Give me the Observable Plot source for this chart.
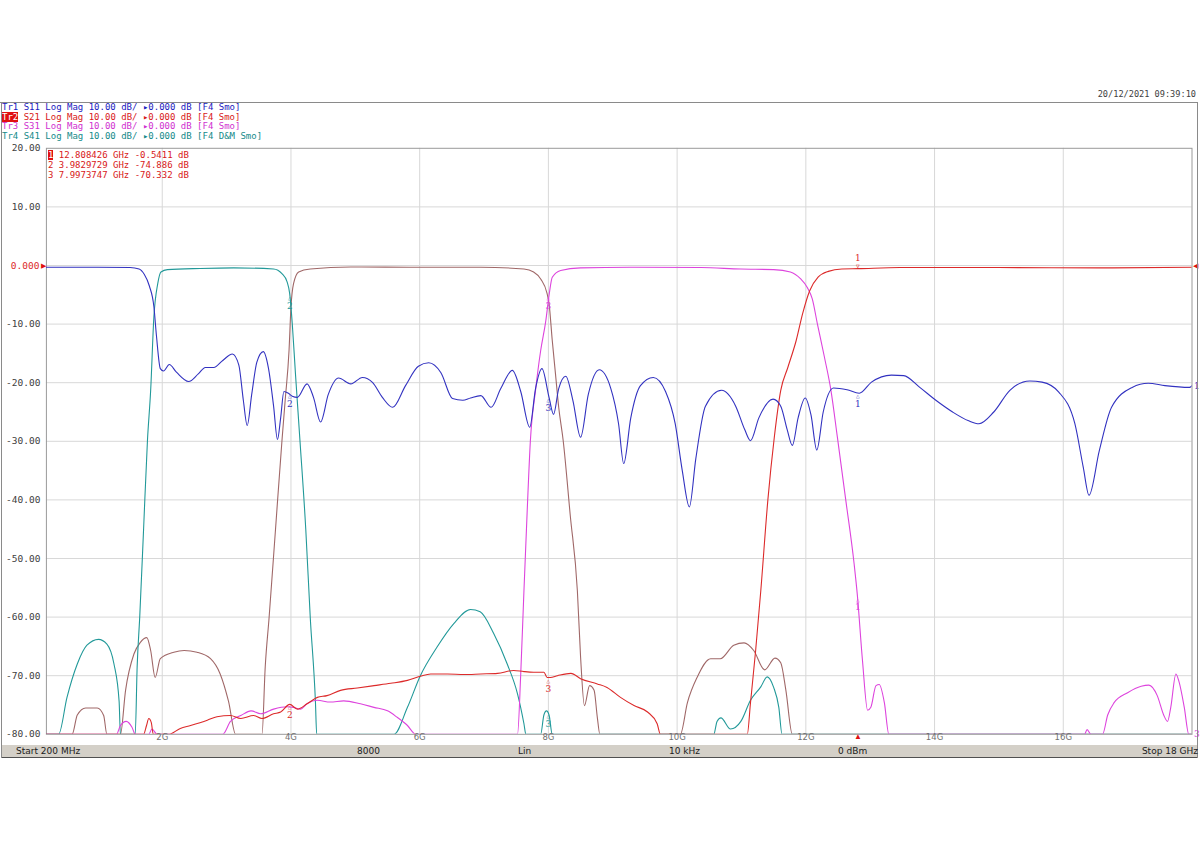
<!DOCTYPE html>
<html><head><meta charset="utf-8">
<script src="https://cdn.jsdelivr.net/npm/d3@7"></script>
<script src="https://cdn.jsdelivr.net/npm/@observablehq/plot@0.6"></script>
<style>
body{margin:0;background:#fff;}
#wrap{position:relative;width:1200px;height:849px;overflow:hidden;background:#fff;}
#chart{position:absolute;left:0;top:0;}
.abs{position:absolute;white-space:pre;}
.mono{font-family:"DejaVu Sans Mono",monospace;font-size:9px;line-height:9.6px;}
.inv{color:#fff;background:#e01010;}
.bar{font-family:"DejaVu Sans",sans-serif;font-size:9px;line-height:12px;color:#202020;}
</style></head>
<body><div id="wrap"><div id="chart"></div></div>
<script>
// ---- data -------------------------------------------------------------
const xTicks = [2, 4, 6, 8, 10, 12, 14, 16];
const xTickLabels = ["2G", "4G", "6G", "8G", "10G", "12G", "14G", "16G"];
const yTicks = [20, 10, 0, -10, -20, -30, -40, -50, -60, -70, -80];
const yTickLabels = ["20.00", "10.00", "0.000", "-10.00", "-20.00", "-30.00", "-40.00", "-50.00", "-60.00", "-70.00", "-80.00"];

// Tr1 S11 (GHz, dB)
const s11 = [[0.2,-0.3],[1.0,-0.3],[1.5,-0.35],[1.64,-0.6],[1.72,-1.5],[1.8,-3.5],[1.87,-7],[1.91,-12],[1.97,-17.6],[2.02,-18],[2.11,-16.9],[2.22,-18.2],[2.41,-19.8],[2.56,-18.5],[2.67,-17.4],[2.80,-17.4],[2.94,-16.2],[3.09,-15.1],[3.19,-17],[3.26,-23],[3.32,-27.3],[3.39,-22],[3.47,-16.5],[3.57,-14.7],[3.65,-17.5],[3.73,-24],[3.79,-29.7],[3.84,-26],[3.89,-21.5],[3.96,-21.8],[4.02,-22.3],[4.10,-22.5],[4.25,-20.2],[4.35,-22.5],[4.46,-26.7],[4.58,-22],[4.74,-19.2],[4.93,-20.2],[5.11,-19.1],[5.27,-20],[5.42,-22.5],[5.58,-24.2],[5.78,-20.5],[5.98,-17.2],[6.14,-16.6],[6.33,-18.3],[6.51,-22.7],[6.67,-23],[6.79,-22.6],[6.95,-22.2],[7.11,-24.2],[7.26,-21],[7.44,-17.9],[7.57,-21.5],[7.71,-27.6],[7.80,-21],[7.90,-17.6],[8.01,-22.5],[8.08,-25.4],[8.16,-21],[8.27,-18.9],[8.38,-23],[8.50,-29.3],[8.62,-22],[8.79,-17.8],[8.97,-21],[9.09,-27],[9.17,-33.8],[9.28,-26],[9.43,-20.5],[9.63,-19.1],[9.82,-21.5],[9.97,-27],[10.08,-35],[10.19,-41.2],[10.29,-33],[10.44,-24],[10.69,-21.3],[10.91,-24],[11.05,-28],[11.14,-29.9],[11.27,-26],[11.49,-22.8],[11.61,-24],[11.71,-28],[11.79,-30.7],[11.88,-26],[11.99,-22.6],[12.08,-25.5],[12.17,-31.5],[12.27,-25],[12.43,-20.9],[12.64,-21.2],[12.83,-21.8],[13.02,-19.9],[13.33,-18.7],[13.52,-18.8],[13.77,-20.8],[14.02,-23],[14.28,-25],[14.53,-26.5],[14.69,-27],[14.92,-25],[15.17,-21.3],[15.48,-19.7],[15.67,-19.9],[15.93,-21.6],[16.18,-27],[16.31,-34.4],[16.40,-39.2],[16.56,-31.6],[16.75,-24.2],[17.07,-20.8],[17.32,-20.1],[17.58,-20.5],[17.96,-20.8],[18.0,-20.5]];

// Tr2 S21
const s21 = [[0.2,-80],[1.71,-80],[1.756,-78.5],[1.79,-77.3],[1.83,-78],[1.86,-80],[2.10,-80],[2.28,-79],[2.44,-78.5],[2.70,-77.6],[2.85,-77],[3.06,-76.8],[3.22,-77.3],[3.42,-76.8],[3.55,-77.3],[3.73,-76.5],[3.84,-76.2],[3.98,-74.9],[4.10,-75.7],[4.25,-74.8],[4.41,-73.7],[4.56,-73.4],[4.77,-72.5],[5.03,-72.1],[5.29,-71.7],[5.55,-71.3],[5.81,-70.8],[6.01,-70.1],[6.17,-69.7],[6.43,-69.7],[6.69,-69.8],[6.95,-69.7],[7.21,-69.6],[7.46,-69.1],[7.62,-69.3],[7.77,-69.4],[7.93,-69.4],[7.98,-70.3],[8.03,-70.3],[8.14,-70],[8.35,-69.6],[8.50,-70.5],[8.76,-71.4],[8.91,-72],[9.12,-73.7],[9.33,-75.1],[9.54,-76.2],[9.69,-78.2],[9.74,-80],[11.09,-80],[11.14,-74.6],[11.22,-65.7],[11.30,-55.5],[11.41,-40],[11.51,-29.3],[11.61,-21.3],[11.72,-17.4],[11.85,-12.8],[11.95,-8.2],[12.06,-4.3],[12.19,-2],[12.35,-1],[12.56,-0.6],[12.81,-0.54],[13.46,-0.35],[15.0,-0.35],[16.56,-0.4],[18.0,-0.3]];

// Tr3 S31
const s31 = [[0.2,-80],[1.29,-80],[1.35,-78.5],[1.44,-77.8],[1.53,-78.8],[1.58,-80],[1.79,-80],[1.84,-79.1],[1.92,-80],[2.94,-80],[3.06,-77.8],[3.22,-76.8],[3.38,-76],[3.53,-76.5],[3.73,-75.7],[3.94,-75.3],[4.04,-75.4],[4.15,-75.7],[4.25,-74.8],[4.41,-74.2],[4.61,-74.5],[4.82,-74.3],[5.08,-74.8],[5.29,-75.4],[5.50,-76],[5.65,-77.1],[5.81,-78.5],[5.94,-80],[7.52,-80],[7.57,-69.7],[7.62,-55.5],[7.67,-42],[7.72,-29.9],[7.80,-21.3],[7.88,-14.5],[7.96,-9.4],[8.01,-5.1],[8.06,-2],[8.19,-0.85],[8.50,-0.4],[9.28,-0.3],[10.37,-0.35],[10.99,-0.6],[11.50,-0.7],[11.76,-1.1],[11.92,-2.3],[12.02,-3.7],[12.10,-5.7],[12.18,-10],[12.29,-15.7],[12.39,-21.3],[12.49,-29.3],[12.62,-40],[12.75,-50.9],[12.80,-56.2],[12.88,-67.4],[12.96,-75.9],[13.01,-75.4],[13.09,-71.7],[13.14,-71.5],[13.22,-74.6],[13.29,-80],[16.33,-80],[16.37,-79.2],[16.43,-80],[16.61,-80],[16.69,-76.7],[16.79,-74.6],[17.00,-72.9],[17.21,-71.8],[17.33,-71.6],[17.46,-73.4],[17.56,-76.7],[17.62,-77.8],[17.67,-75.4],[17.75,-69.7],[17.80,-71.1],[17.88,-75.4],[17.95,-80],[18.0,-80]];

// Tr4 S41
const s41 = [[0.2,-80],[0.39,-80],[0.52,-73.7],[0.68,-68],[0.83,-64.8],[1.01,-63.8],[1.14,-64.6],[1.25,-68],[1.33,-74.4],[1.35,-80],[1.58,-80],[1.61,-68.5],[1.65,-60],[1.71,-45],[1.77,-29.9],[1.82,-21.3],[1.87,-8.8],[1.93,-3.1],[1.98,-1.1],[2.08,-0.7],[2.59,-0.5],[3.11,-0.4],[3.73,-0.6],[3.86,-1.4],[3.94,-2.8],[3.98,-4.8],[4.02,-9.9],[4.07,-18.5],[4.14,-29.9],[4.23,-45],[4.30,-60.1],[4.38,-74.4],[4.40,-80],[5.60,-80],[5.81,-75.4],[6.01,-70],[6.27,-65.1],[6.53,-61.1],[6.79,-58.7],[6.94,-59.1],[7.15,-62.8],[7.36,-68],[7.52,-73.1],[7.62,-78.2],[7.65,-80],[7.88,-80],[7.93,-76.7],[7.97,-76],[8.01,-76.7],[8.06,-80],[10.57,-80],[10.62,-77.8],[10.68,-77.2],[10.83,-79.1],[10.99,-77.8],[11.14,-74.2],[11.30,-71.9],[11.40,-70.2],[11.50,-72],[11.58,-75.4],[11.63,-80],[18.0,-80]];

// brown channel trace (4-8 GHz band)
const chB = [[0.2,-80],[0.60,-80],[0.68,-76.7],[0.81,-75.5],[0.99,-75.5],[1.09,-76.8],[1.14,-80],[1.35,-80],[1.43,-72.5],[1.56,-66.3],[1.66,-64.3],[1.76,-63.5],[1.82,-65.7],[1.89,-70.3],[1.97,-67.1],[2.18,-66],[2.34,-65.7],[2.54,-66],[2.75,-67.1],[2.90,-69.7],[3.03,-74.4],[3.14,-80],[3.55,-80],[3.60,-68.5],[3.66,-60.1],[3.76,-45],[3.86,-29.9],[3.91,-23],[3.97,-14.5],[4.00,-7.1],[4.04,-3.1],[4.12,-1.1],[4.30,-0.6],[4.93,-0.25],[6.0,-0.3],[6.95,-0.3],[7.62,-0.6],[7.77,-1.1],[7.88,-2.3],[7.98,-4.8],[8.01,-6.5],[8.06,-12.8],[8.11,-18.5],[8.16,-24.2],[8.23,-29.9],[8.34,-42.7],[8.45,-55.5],[8.50,-66.8],[8.56,-75.1],[8.64,-71.7],[8.71,-72.5],[8.76,-77.1],[8.80,-80],[10.05,-80],[10.16,-74.6],[10.31,-70.3],[10.52,-67.1],[10.67,-67.1],[10.88,-64.8],[11.04,-64.4],[11.19,-65.7],[11.36,-69],[11.52,-67],[11.61,-67.8],[11.69,-72.5],[11.79,-80],[18.0,-80]];

// markers (GHz) and marker readings
const markerNames = ["1", "2", "3"];
const markerFreqs = [12.808426, 3.9829729, 7.9973747];
const s21MarkerMag = [-0.5411, -74.886, -70.332];
const s11MarkerMag = [-21.8, -21.8, -22.5];
const s31MarkerMag = [-56.5, -75.4, -5.0];
const s41MarkerMag = [-80, -5.0, -76.3];

// ---- colours ---------------------------------------------------------
const cS11 = "#3232c0", cS21 = "#dc2a2a", cS31 = "#dd44dd", cS41 = "#229999", cB = "#a06868";
const mono = "DejaVu Sans Mono";

const toRows = arr => arr.map(([f, db]) => ({f, db}));
const mk = (mags, skip = []) => markerFreqs.map((f, i) => ({f, db: mags[i], name: markerNames[i]})).filter((d, i) => !skip.includes(i));
const yLab = v => yTickLabels[yTicks.indexOf(v)];
const xLab = v => xTickLabels[xTicks.indexOf(v)];

const line = (arr, color) => Plot.line(toRows(arr), {x: "f", y: "db", stroke: color, strokeWidth: 1.1, curve: "monotone-x", clip: true});
const mText = (rows, color, dy, txt, size = 9, font = "DejaVu Serif") =>
  Plot.text(rows, {x: "f", y: "db", text: txt, fill: color, dy, fontSize: size, fontFamily: font});

const chart = Plot.plot({
  width: 1200, height: 849,
  marginTop: 147.8, marginBottom: 115.2, marginLeft: 45.9, marginRight: 8.5,
  x: {domain: [0.2, 18], axis: null},
  y: {domain: [-80, 20], axis: null},
  style: {background: "transparent", overflow: "visible"},
  marks: [
    Plot.gridX(xTicks, {stroke: "#d8d8d8", strokeOpacity: 1}),
    Plot.gridY(yTicks.filter(v => v > -80 && v < 20), {stroke: "#d8d8d8", strokeOpacity: 1}),
    Plot.frame({stroke: "#9a9a9a"}),
    line(chB, cB),
    line(s41, cS41),
    line(s31, cS31),
    line(s21, cS21),
    line(s11, cS11),
    // y tick labels
    Plot.text(yTicks.filter(v => v !== 0), {y: d => d, frameAnchor: "left", dx: -6, textAnchor: "end", text: d => yLab(d), fill: "#404040", fontSize: 9.5, fontFamily: mono}),
    Plot.text([0], {y: d => d, frameAnchor: "left", dx: -7, textAnchor: "end", text: d => yLab(d), fill: cS21, fontSize: 9.5, fontFamily: mono}),
    Plot.text([0], {y: d => d, frameAnchor: "left", dx: 0, textAnchor: "end", text: ["▶"], fill: "#e01010", fontSize: 7}),
    Plot.text([0], {y: d => d, frameAnchor: "right", dx: 1, textAnchor: "start", text: ["◀"], fill: "#e01010", fontSize: 7}),
    // x tick labels
    Plot.text(xTicks, {x: d => d, frameAnchor: "bottom", dy: 6, text: d => xLab(d), fill: "#707070", fontSize: 8.5, fontFamily: "DejaVu Sans"}),
    Plot.text([markerFreqs[0]], {x: d => d, frameAnchor: "bottom", dy: 5, text: () => "▲", fill: "#e01010", fontSize: 8}),
    // right-edge trace indicators
    Plot.text([-20.5], {y: d => d, frameAnchor: "right", dx: 2, textAnchor: "start", text: () => "1", fill: cS11, fontSize: 9, fontFamily: "DejaVu Serif"}),
    Plot.text([-80], {y: d => d, frameAnchor: "right", dx: 2, textAnchor: "start", text: () => "3", fill: cS31, fontSize: 9, fontFamily: "DejaVu Serif"}),
    // marker symbols on traces
    mText(mk(s21MarkerMag, [1, 2]), cS21, -3, () => "▽", 6, mono),
    mText(mk(s21MarkerMag, [1, 2]), cS21, -11, "name"),
    mText(mk(s21MarkerMag, [0]), cS21, 3, () => "△", 6, mono),
    mText(mk(s21MarkerMag, [0]), cS21, 11, "name"),
    mText(mk(s11MarkerMag), cS11, 3, () => "△", 6, mono),
    mText(mk(s11MarkerMag), cS11, 11, "name"),
    mText(mk(s31MarkerMag, [1]), cS31, 3, () => "△", 6, mono),
    mText(mk(s31MarkerMag, [1]), cS31, 11, "name"),
    mText(mk(s41MarkerMag, [0]), cS41, 3, () => "△", 6, mono),
    mText(mk(s41MarkerMag, [0]), cS41, 11, "name")
  ]
});
document.getElementById("chart").appendChild(chart);

// ---- HTML overlays (header, marker table, status bar) ----------------
const wrap = document.getElementById("wrap");
function addDiv(html, style, cls) {
  const d = document.createElement("div");
  d.className = "abs " + (cls || "");
  d.innerHTML = html;
  Object.assign(d.style, style);
  wrap.appendChild(d);
  return d;
}
// frame lines
addDiv("", {left: "0px", top: "101.5px", width: "1198px", height: "1px", background: "#8a8a8a"});
addDiv("", {left: "1px", top: "101.5px", width: "1px", height: "656px", background: "#8a8a8a"});
addDiv("", {left: "1196.5px", top: "101.5px", width: "1px", height: "656px", background: "#8a8a8a"});
// date
addDiv("20/12/2021 09:39:10", {right: "4px", top: "90px", color: "#404040", fontSize: "8.6px"}, "mono");
// trace header lines
const hdr = [
  ["Tr1", " S11 Log Mag 10.00 dB/ ▸0.000 dB [F4 Smo]", "#2020c0", false],
  ["Tr2", " S21 Log Mag 10.00 dB/ ▸0.000 dB [F4 Smo]", "#d81818", true],
  ["Tr3", " S31 Log Mag 10.00 dB/ ▸0.000 dB [F4 Smo]", "#d030d0", false],
  ["Tr4", " S41 Log Mag 10.00 dB/ ▸0.000 dB [F4 D&amp;M Smo]", "#148a8a", false]
];
hdr.forEach(([t, rest, col, inv], i) => {
  addDiv((inv ? `<span class="inv">${t}</span>` : t) + rest, {left: "2px", top: (103 + i * 9.6) + "px", color: col}, "mono");
});
// marker table
const mtab = [
  `<span class="inv">1</span> 12.808426 GHz -0.5411 dB`,
  `2 3.9829729 GHz -74.886 dB`,
  `3 7.9973747 GHz -70.332 dB`
];
mtab.forEach((t, i) => addDiv(t, {left: "48px", top: (150 + i * 10) + "px", color: "#d81818", lineHeight: "10px"}, "mono"));
// status bar
addDiv("", {left: "2px", top: "745px", width: "1194.5px", height: "12px", background: "#d4d0c8", borderBottom: "1px solid #505050"});
const bar = [["Start 200 MHz", 16], ["8000", 357], ["Lin", 518], ["10 kHz", 669], ["0 dBm", 838]];
bar.forEach(([t, x]) => addDiv(t, {left: x + "px", top: "745px"}, "bar"));
addDiv("Stop 18 GHz", {right: "2px", top: "745px"}, "bar");
</script>
</body></html>
